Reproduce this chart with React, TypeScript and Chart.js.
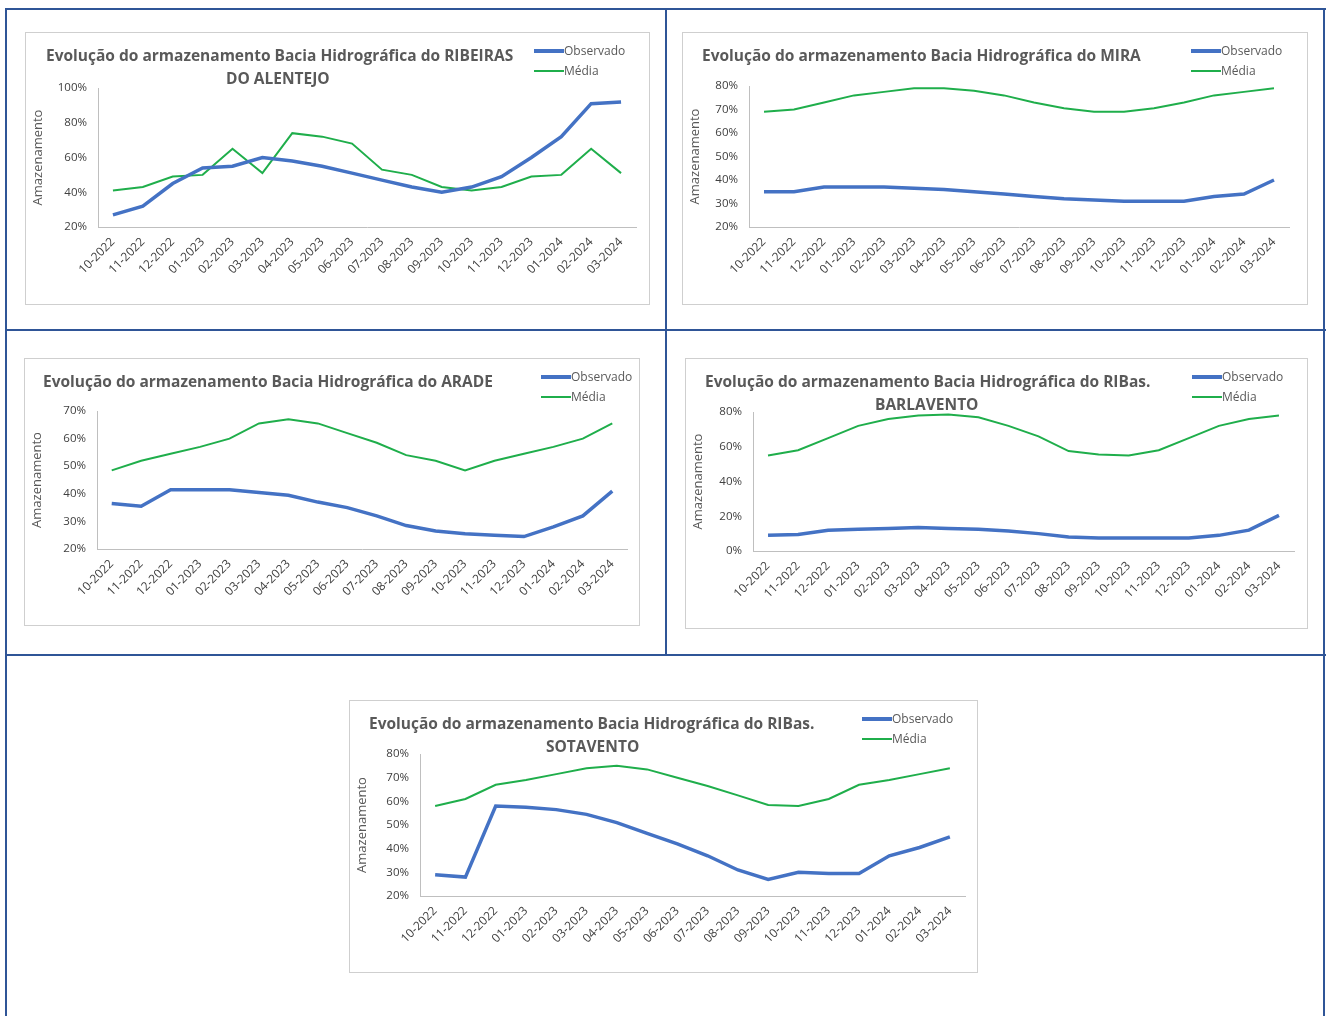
import { useEffect, useRef } from "react";
import { Chart, registerables } from "chart.js";

Chart.register(...registerables);

const months = [
  "10-2022", "11-2022", "12-2022", "01-2023", "02-2023", "03-2023", "04-2023", "05-2023", "06-2023",
  "07-2023", "08-2023", "09-2023", "10-2023", "11-2023", "12-2023", "01-2024", "02-2024", "03-2024",
];

const ribeirasObs = [27, 32, 45, 54, 55, 60, 58, 55, 51, 47, 43, 40, 43, 49, 60, 72, 91, 92];
const ribeirasMed = [41, 43, 49, 50, 65, 51, 74, 72, 68, 53, 50, 43, 41, 43, 49, 50, 65, 51];
const miraObs = [35, 35, 37, 37, 37, 36.5, 36, 35, 34, 33, 32, 31.5, 31, 31, 31, 33, 34, 40];
const miraMed = [69, 70, 73, 76, 77.5, 79, 79, 78, 76, 73, 70.5, 69, 69, 70.5, 73, 76, 77.5, 79];
const aradeObs = [36.5, 35.5, 41.5, 41.5, 41.5, 40.5, 39.5, 37, 35, 32, 28.5, 26.5, 25.5, 25, 24.5, 28, 32, 41];
const aradeMed = [48.5, 52, 54.5, 57, 60, 65.5, 67, 65.5, 62, 58.5, 54, 52, 48.5, 52, 54.5, 57, 60, 65.5];
const barlObs = [9, 9.5, 12, 12.5, 13, 13.5, 13, 12.5, 11.5, 10, 8, 7.5, 7.5, 7.5, 7.5, 9, 12, 20.5];
const barlMed = [55, 58, 65, 72, 76, 78, 78.5, 77, 72, 66, 57.5, 55.5, 55, 58, 65, 72, 76, 78];
const sotaObs = [29, 28, 58, 57.5, 56.5, 54.5, 51, 46.5, 42, 37, 31, 27, 30, 29.5, 29.5, 37, 40.5, 45];
const sotaMed = [58, 61, 67, 69, 71.5, 74, 75, 73.5, 70, 66.5, 62.5, 58.5, 58, 61, 67, 69, 71.5, 74];

const FONT = "'Open Sans', 'DejaVu Sans', sans-serif";
const BLUE = "#4472C4";
const GREEN = "#1FAE4B";

interface PanelProps {
  x: number; y: number; w: number; h: number;
  title: string; title2?: string; titleX: number; title2X?: number; legendX: number;
  obs: number[]; med: number[];
  min: number; max: number; step: number;
  pl: number; pt: number; pr: number; pb: number;
}

function Panel(p: PanelProps) {
  const canvasRef = useRef<HTMLCanvasElement>(null);

  useEffect(() => {
    if (!canvasRef.current) return;
    const chart = new Chart(canvasRef.current, {
      type: "line",
      data: {
        labels: months,
        datasets: [
          { label: "Observado", data: p.obs, borderColor: BLUE, borderWidth: 3.5, pointRadius: 0, tension: 0 },
          { label: "Média", data: p.med, borderColor: GREEN, borderWidth: 2, pointRadius: 0, tension: 0 },
        ],
      },
      options: {
        responsive: false,
        animation: false,
        layout: { padding: { left: 0, top: p.pt, right: p.w - p.pr, bottom: 0 } },
        plugins: { legend: { display: false }, tooltip: { enabled: false } },
        scales: {
          x: {
            offset: true,
            grid: { display: false, drawTicks: true, tickLength: 5, color: "#bfbfbf" },
            border: { color: "#bfbfbf" },
            ticks: { color: "#404040", font: { size: 12, family: FONT }, maxRotation: 45, minRotation: 45, autoSkip: false },
            afterFit: (s: any) => { s.height = p.h - p.pb; },
          },
          y: {
            min: p.min, max: p.max,
            grid: { display: false },
            border: { color: "#bfbfbf" },
            ticks: { stepSize: p.step, color: "#404040", font: { size: 11.5, family: FONT }, callback: (v: any) => v + "%" },
            title: { display: true, text: "Amazenamento", color: "#595959", font: { size: 13, family: FONT } },
            afterFit: (s: any) => { s.width = p.pl; },
          },
        },
      },
    });
    return () => chart.destroy();
  }, []);

  return (
    <div style={{ position: "absolute", left: p.x, top: p.y, width: p.w, height: p.h, border: "1px solid #cfcfcf", background: "#fff", boxSizing: "border-box" }}>
      <canvas ref={canvasRef} width={p.w - 2} height={p.h - 2} style={{ position: "absolute", left: 0, top: 0 }} />
      <div style={{ position: "absolute", left: p.titleX, top: 11, fontFamily: FONT, fontWeight: 700, fontSize: 15.5, color: "#595959", whiteSpace: "nowrap" }}>{p.title}</div>
      {p.title2 && (
        <div style={{ position: "absolute", left: p.title2X, top: 34, fontFamily: FONT, fontWeight: 700, fontSize: 15.5, color: "#595959", whiteSpace: "nowrap" }}>{p.title2}</div>
      )}
      <div style={{ position: "absolute", left: p.legendX, top: 8, fontFamily: FONT, fontSize: 12, color: "#595959", lineHeight: "20px" }}>
        <div style={{ display: "flex", alignItems: "center" }}>
          <span style={{ display: "inline-block", width: 30, height: 4, background: BLUE }} />Observado
        </div>
        <div style={{ display: "flex", alignItems: "center" }}>
          <span style={{ display: "inline-block", width: 30, height: 2, background: GREEN }} />Média
        </div>
      </div>
    </div>
  );
}

const line = (l: number, t: number, w: number, h: number) => (
  <div style={{ position: "absolute", left: l, top: t, width: w, height: h, background: "#2F5597" }} />
);

export default function App() {
  return (
    <div style={{ position: "absolute", left: 0, top: 0, width: 1326, height: 1016, background: "#fff", overflow: "hidden" }}>
      {line(5, 8, 2, 1010)}
      {line(5, 8, 1321, 2)}
      {line(1323, 8, 2, 1010)}
      {line(665, 8, 2, 648)}
      {line(5, 329, 1321, 2)}
      {line(5, 654, 1321, 2)}
      <Panel x={25} y={32} w={625} h={273} title="Evolução do armazenamento Bacia Hidrográfica do RIBEIRAS" title2="DO ALENTEJO" titleX={20} title2X={200} legendX={508}
        obs={ribeirasObs} med={ribeirasMed} min={20} max={100} step={20} pl={72} pt={55} pr={612} pb={196} />
      <Panel x={682} y={32} w={626} h={273} title="Evolução do armazenamento Bacia Hidrográfica do MIRA" titleX={19} legendX={508}
        obs={miraObs} med={miraMed} min={20} max={80} step={10} pl={66} pt={53} pr={608} pb={196} />
      <Panel x={24} y={358} w={616} h={268} title="Evolução do armazenamento Bacia Hidrográfica do ARADE" titleX={18} legendX={516}
        obs={aradeObs} med={aradeMed} min={20} max={70} step={10} pl={72} pt={52} pr={604} pb={192} />
      <Panel x={685} y={358} w={623} h={271} title="Evolução do armazenamento Bacia Hidrográfica do RIBas." title2="BARLAVENTO" titleX={19} title2X={189} legendX={506}
        obs={barlObs} med={barlMed} min={0} max={80} step={20} pl={67} pt={53} pr={610} pb={194} />
      <Panel x={349} y={700} w={629} h={273} title="Evolução do armazenamento Bacia Hidrográfica do RIBas." title2="SOTAVENTO" titleX={19} title2X={196} legendX={512}
        obs={sotaObs} med={sotaMed} min={20} max={80} step={10} pl={70} pt={53} pr={617} pb={197} />
    </div>
  );
}
